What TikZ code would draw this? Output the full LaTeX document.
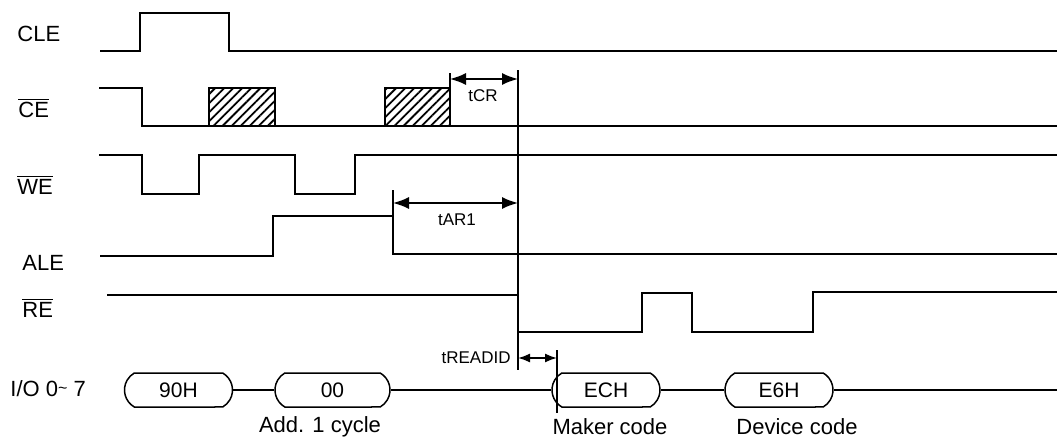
\documentclass[tikz,border=0pt]{standalone}
\usepackage{fontspec}
\setmainfont{Liberation Sans}
\usepackage{tikz}
\usetikzlibrary{arrows.meta,patterns.meta,shapes.misc}
\newcommand{\ovl}[1]{$\overline{\hbox{#1}}$}

\begin{document}
\begin{tikzpicture}[x=0.5pt,y=-0.5pt,
 sig/.style={line width=0.9pt},
 guide/.style={line width=0.65pt},
 lbl/.style={anchor=west,inner sep=0pt,font=\fontsize{11}{13}\selectfont},
 tlbl/.style={inner sep=0pt,font=\fontsize{8.5}{10}\selectfont},
 bus/.style={draw,line width=0.75pt,rounded rectangle,rounded rectangle arc length=120,
  minimum width=54pt,minimum height=17pt,inner sep=0pt,font=\fontsize{10.5}{12}\selectfont},
 dim/.style={line width=0.8pt,{Latex[length=8pt,width=6pt]}-{Latex[length=8pt,width=6pt]}},
 hatch/.style={draw,line width=0.8pt,pattern={Lines[angle=45,distance=3.2pt,line width=0.9pt]}}]
 \useasboundingbox (0,0) rectangle (1057,439);

 \node[lbl] (cle) at (17,34) {CLE};
 \node[lbl] (ce) at (18,108) {\ovl{CE}};
 \node[lbl] (we) at (17,185) {\ovl{WE}};
 \node[lbl] (ale) at (22,263) {ALE};
 \node[lbl] (re) at (22,308) {\ovl{RE}};
 \node[lbl] (io) at (10,389) {I/O 0\raisebox{0.3ex}{\fontsize{8}{9}\selectfont\textasciitilde} 7};

 \draw[sig] (100,51) -- (140,51) -- (140,13) -- (229,13) -- (229,51) -- (1057,51);
 \draw[sig] (99,88) -- (142,88) -- (142,126) -- (1057,126);
 \draw[hatch] (209,88) rectangle (275,126);
 \draw[hatch] (385,88) rectangle (450,126);
 \draw[sig] (99,155) -- (142,155) -- (142,194) -- (199,194) -- (199,155) -- (295,155)
  -- (295,194) -- (355,194) -- (355,155) -- (1057,155);
 \draw[sig] (100,256) -- (273,256) -- (273,216) -- (393,216) -- (393,254) -- (1057,254);
 \draw[sig] (107,295) -- (518,295) -- (518,332) -- (642,332) -- (642,293) -- (692,293)
  -- (692,332) -- (813,332) -- (813,292) -- (1057,292);

 \draw[guide] (518,70) -- (518,370);

 \coordinate (crL) at (450,79);
 \coordinate (crR) at (518,79);
 \draw[guide] (450,73) -- (450,88);
 \draw[dim] (crL) -- (crR);
 \node[tlbl] (tcr) at (483,96) {tCR};

 \coordinate (arL) at (393,203);
 \coordinate (arR) at (518,203);
 \draw[guide] (393,190) -- (393,216);
 \draw[dim] (arL) -- (arR);
 \node[tlbl] (tar) at (457,220) {tAR1};

 \coordinate (rdL) at (518,358);
 \coordinate (rdR) at (557,358);
 \draw[guide] (557,350) -- (557,413);
 \draw[dim,{Latex[length=6pt,width=4.5pt]}-{Latex[length=6pt,width=4.5pt]}] (rdL) -- (rdR);
 \node[tlbl,anchor=east] (trd) at (511,358) {tREADID};

 \node[bus] (b90) at (178.5,390) {90H};
 \node[bus,minimum width=57.5pt] (b00) at (332.5,390) {00};
 \node[bus] (bec) at (606,390) {ECH};
 \node[bus] (be6) at (779,390) {E6H};
 \coordinate (busend) at (1057,390);
 \draw[guide] (b90.east) -- (b00.west);
 \draw[guide] (b00.east) -- (bec.west);
 \draw[guide] (bec.east) -- (be6.west);
 \draw[guide] (be6.east) -- (busend);

 \node[lbl,anchor=center] (add) at (320,427) {Add. 1 cycle};
 \node[lbl,anchor=center] (mkr) at (610,427) {Maker code};
 \node[lbl,anchor=center] (dev) at (797,427) {Device code};
\end{tikzpicture}
\end{document}
